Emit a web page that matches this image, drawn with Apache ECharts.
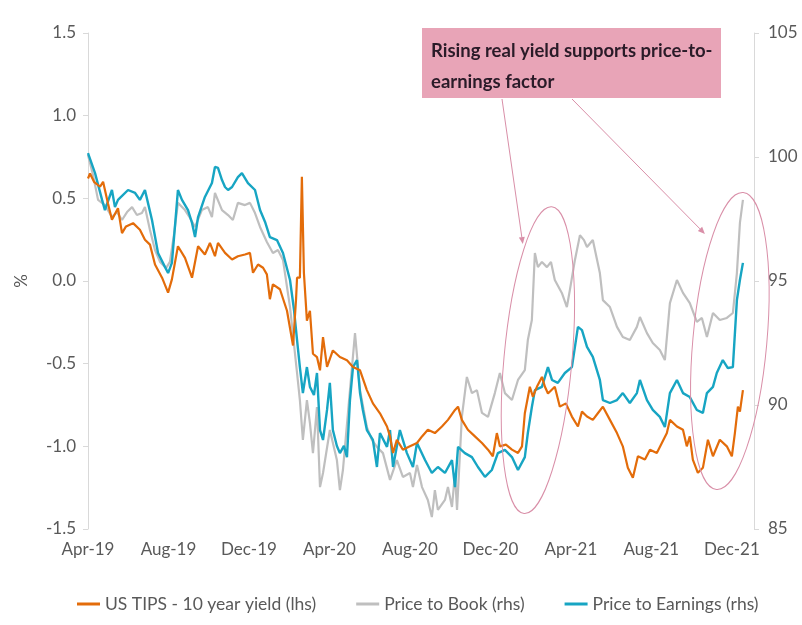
<!DOCTYPE html>
<html>
<head>
<meta charset="utf-8">
<script src="https://cdn.jsdelivr.net/npm/echarts@6/dist/echarts.min.js"></script>
<style>
  html, body { margin: 0; padding: 0; background: #fff; }
  #chart { width: 802px; height: 625px; }
</style>
</head>
<body>
<div id="chart"></div>
<script>
// x = months since Apr-19 (0 = Apr-19, 4 = Aug-19 ...)
const tickLabels = ["Apr-19", "Aug-19", "Dec-19", "Apr-20", "Aug-20", "Dec-20", "Apr-21", "Aug-21", "Dec-21"];

// US TIPS 10y real yield, % (lhs)
const tipsYield = [
  [0, 0.62], [0.10, 0.65], [0.30, 0.60], [0.60, 0.57], [0.75, 0.60], [0.99, 0.47], [1.19, 0.37], [1.49, 0.44],
  [1.69, 0.29], [1.89, 0.33], [2.24, 0.35], [2.58, 0.31], [2.83, 0.25], [3.08, 0.22], [3.33, 0.10], [3.68, 0.02],
  [3.98, -0.07], [4.17, 0.01], [4.47, 0.21], [4.82, 0.14], [5.17, 0.02], [5.47, 0.21], [5.81, 0.16], [6.06, 0.23],
  [6.31, 0.15], [6.46, 0.23], [6.81, 0.17], [7.16, 0.13], [7.45, 0.15], [7.80, 0.16], [8.05, 0.17], [8.20, 0.05],
  [8.45, 0.10], [8.70, 0.08], [8.89, 0.04], [9.04, -0.11], [9.19, -0.02], [9.54, -0.05], [9.89, -0.18], [10.19, -0.39],
  [10.34, -0.11], [10.39, 0.02], [10.53, 0.02], [10.63, 0.63], [10.73, 0.05], [10.88, -0.24], [11.03, -0.18], [11.18, -0.44],
  [11.38, -0.46], [11.53, -0.54], [11.68, -0.34], [11.88, -0.52], [12.17, -0.42], [12.52, -0.46], [12.87, -0.48], [13.17, -0.52],
  [13.52, -0.54], [13.86, -0.66], [14.16, -0.74], [14.51, -0.80], [14.86, -0.88], [15.01, -0.94], [15.16, -1.04], [15.35, -0.96],
  [15.65, -1.02], [16.00, -1.00], [16.35, -0.98], [16.60, -0.94], [16.89, -0.90], [17.24, -0.92], [17.59, -0.88], [17.89, -0.84],
  [18.24, -0.78], [18.39, -0.76], [18.58, -0.84], [18.88, -0.90], [19.23, -0.94], [19.58, -0.98], [19.88, -1.02], [20.12, -1.06],
  [20.32, -0.92], [20.47, -1.00], [20.77, -0.99], [21.07, -1.02], [21.37, -1.04], [21.57, -1.00], [21.71, -0.80], [21.96, -0.64],
  [22.11, -0.70], [22.31, -0.64], [22.56, -0.58], [22.71, -0.64], [22.86, -0.68], [23.20, -0.64], [23.45, -0.76], [23.75, -0.74],
  [24.05, -0.82], [24.35, -0.88], [24.55, -0.79], [24.80, -0.82], [25.09, -0.84], [25.34, -0.80], [25.59, -0.76], [25.94, -0.84],
  [26.29, -0.92], [26.58, -1.00], [26.83, -1.13], [27.08, -1.19], [27.33, -1.06], [27.68, -1.08], [27.93, -1.02], [28.27, -1.04],
  [28.52, -0.98], [28.77, -0.92], [28.92, -0.84], [29.27, -0.88], [29.57, -0.90], [29.76, -1.00], [29.91, -0.94], [30.06, -1.08],
  [30.31, -1.16], [30.56, -1.13], [30.81, -0.96], [31.06, -1.06], [31.40, -0.96], [31.75, -1.00], [32.00, -1.06], [32.15, -0.92],
  [32.30, -0.76], [32.40, -0.79], [32.55, -0.66]
];

// Price to Book factor (rhs)
const priceToBook = [
  [0, 100.08], [0.25, 99.27], [0.50, 98.27], [0.84, 98.06], [1.19, 97.58], [1.44, 97.78], [1.69, 97.46], [1.94, 97.78],
  [2.19, 97.98], [2.43, 97.66], [2.68, 97.74], [2.83, 97.98], [3.08, 97.06], [3.33, 96.25], [3.58, 95.77], [3.88, 95.52],
  [4.07, 95.77], [4.27, 96.85], [4.47, 98.15], [4.82, 97.86], [5.07, 97.54], [5.32, 97.18], [5.66, 97.86], [5.96, 97.98],
  [6.16, 97.58], [6.31, 98.55], [6.66, 97.86], [6.96, 97.66], [7.20, 97.46], [7.45, 98.15], [7.80, 98.06], [8.05, 98.15],
  [8.30, 97.74], [8.55, 97.18], [8.89, 96.57], [9.19, 96.13], [9.44, 96.25], [9.69, 95.85], [10.04, 93.95], [10.39, 91.29],
  [10.53, 90.20], [10.68, 88.59], [10.88, 90.20], [11.03, 89.27], [11.18, 88.06], [11.38, 89.92], [11.53, 86.69], [11.68, 87.26],
  [12.02, 88.99], [12.37, 87.78], [12.52, 86.57], [12.67, 87.38], [13.02, 90.60], [13.27, 92.90], [13.52, 90.60], [13.86, 89.11],
  [14.11, 88.59], [14.36, 88.31], [14.66, 88.06], [15.01, 86.98], [15.35, 87.78], [15.65, 87.10], [16.00, 87.26], [16.15, 86.69],
  [16.35, 87.58], [16.60, 86.69], [16.89, 86.17], [17.09, 85.48], [17.24, 86.57], [17.39, 85.77], [17.74, 86.17], [17.89, 86.69],
  [18.09, 85.89], [18.24, 87.26], [18.34, 85.77], [18.58, 89.52], [18.83, 91.13], [19.08, 90.48], [19.33, 90.60], [19.58, 89.68],
  [19.88, 89.52], [20.22, 90.48], [20.47, 91.29], [20.72, 90.48], [21.07, 90.20], [21.37, 91.01], [21.71, 91.41], [21.86, 92.62],
  [22.06, 93.43], [22.21, 96.13], [22.36, 95.56], [22.56, 95.77], [22.81, 95.56], [23.01, 95.77], [23.20, 95.04], [23.55, 94.52],
  [23.80, 93.95], [23.95, 94.64], [24.20, 95.85], [24.45, 96.85], [24.65, 96.65], [24.80, 96.37], [25.09, 96.65], [25.44, 95.32],
  [25.59, 94.23], [25.94, 93.95], [26.29, 93.15], [26.58, 92.74], [26.93, 92.62], [27.28, 93.15], [27.43, 93.55], [27.78, 92.90],
  [28.07, 92.50], [28.42, 92.22], [28.67, 91.81], [28.92, 94.11], [29.27, 95.04], [29.57, 94.52], [29.91, 94.11], [30.26, 93.35],
  [30.51, 93.51], [30.76, 92.74], [31.06, 93.71], [31.40, 93.43], [31.75, 93.51], [32.05, 93.71], [32.25, 95.32], [32.40, 97.34],
  [32.55, 98.27]
];

// Price to Earnings factor (rhs)
const priceToEarnings = [
  [0, 100.16], [0.35, 99.35], [0.70, 98.27], [0.84, 97.86], [1.19, 98.67], [1.34, 97.98], [1.49, 98.27], [1.99, 98.67],
  [2.34, 98.55], [2.58, 98.27], [2.83, 98.67], [2.98, 98.15], [3.18, 97.46], [3.48, 96.13], [3.83, 95.56], [3.98, 95.32],
  [4.17, 95.73], [4.32, 97.18], [4.47, 98.67], [4.67, 98.27], [4.97, 97.86], [5.17, 97.34], [5.32, 96.77], [5.47, 97.58],
  [5.81, 98.39], [6.16, 98.95], [6.31, 99.60], [6.46, 99.56], [6.66, 99.07], [6.81, 98.79], [6.96, 98.67], [7.16, 98.79],
  [7.45, 99.19], [7.65, 99.35], [7.95, 98.95], [8.30, 98.67], [8.55, 97.86], [8.80, 97.38], [9.04, 96.77], [9.39, 96.65],
  [9.69, 96.13], [10.04, 95.04], [10.24, 93.83], [10.39, 92.62], [10.53, 91.53], [10.68, 90.48], [10.88, 91.53], [11.03, 90.73],
  [11.23, 90.40], [11.38, 91.29], [11.53, 88.99], [11.68, 88.59], [11.88, 89.80], [12.02, 90.89], [12.17, 88.99], [12.37, 88.35],
  [12.52, 88.06], [12.72, 88.35], [12.87, 87.90], [13.02, 90.20], [13.17, 91.53], [13.37, 91.81], [13.52, 90.48], [13.66, 89.80],
  [13.86, 88.99], [14.16, 88.59], [14.36, 87.50], [14.51, 88.87], [14.86, 88.31], [15.01, 88.99], [15.16, 87.50], [15.50, 88.99],
  [15.85, 88.06], [16.15, 87.50], [16.35, 88.47], [16.75, 87.78], [17.09, 87.26], [17.39, 87.50], [17.74, 87.26], [18.09, 87.78],
  [18.24, 86.69], [18.39, 88.31], [18.73, 88.06], [19.08, 87.90], [19.38, 87.50], [19.73, 87.10], [20.07, 87.38], [20.37, 88.06],
  [20.72, 88.19], [21.07, 87.90], [21.37, 87.38], [21.71, 87.90], [21.86, 88.87], [22.06, 89.92], [22.21, 90.60], [22.56, 90.73],
  [22.86, 91.53], [23.06, 91.01], [23.35, 90.89], [23.70, 91.29], [24.05, 91.53], [24.35, 93.15], [24.55, 93.02], [24.80, 92.34],
  [25.09, 91.94], [25.44, 91.01], [25.59, 90.20], [25.94, 90.08], [26.29, 90.20], [26.58, 90.48], [26.93, 90.08], [27.28, 90.48],
  [27.43, 91.01], [27.78, 90.20], [28.07, 89.80], [28.42, 89.52], [28.67, 89.11], [28.92, 90.48], [29.27, 91.01], [29.57, 90.48],
  [29.91, 90.32], [30.26, 89.80], [30.56, 89.68], [30.76, 90.48], [31.06, 90.73], [31.25, 91.29], [31.55, 91.81], [31.80, 91.49],
  [32.05, 91.53], [32.25, 94.23], [32.40, 95.04], [32.55, 95.73]
];

const seriesNames = ["US TIPS - 10 year yield (lhs)", "Price to Book (rhs)", "Price to Earnings (rhs)"];
const seriesColors = ["#E36C0A", "#BFBFBF", "#17A5C3"];

// callout: ellipse centres [month, rhs value], arrow tips [month, rhs value]
const noteText = "Rising real yield supports price-to-\nearnings factor";
const ellipseCentres = [[22.36, 91.81], [31.90, 92.58]];
const arrowTips = [[21.61, 96.49], [30.66, 96.90]];

const FONT = "Lato, 'Open Sans', sans-serif";
const labelColor = "#595959";
const axisColor = "#D9D9D9";
const pink = "#D98FA8";

let chart = echarts.init(document.getElementById("chart"), null, { renderer: "canvas" });

chart.setOption({
  animation: false,
  backgroundColor: "#fff",
  textStyle: { fontFamily: FONT },
  grid: { left: 88, right: 48, top: 33, bottom: 96, containLabel: false },
  legend: {
    data: seriesNames,
    left: 72,
    top: 590,
    icon: "rect",
    itemWidth: 23,
    itemHeight: 3,
    itemGap: 40,
    textStyle: { fontSize: 17.5, color: labelColor, fontFamily: FONT }
  },
  xAxis: {
    type: "value",
    min: 0,
    max: 33.1,
    interval: 4,
    axisLine: { show: false },
    axisTick: { show: false },
    splitLine: { show: false },
    axisLabel: {
      fontSize: 17,
      color: labelColor,
      margin: 12,
      showMaxLabel: false,
      formatter: v => tickLabels[Math.round(v / 4)] || ""
    }
  },
  yAxis: [
    {
      type: "value",
      min: -1.5,
      max: 1.5,
      interval: 0.5,
      name: "%",
      nameLocation: "middle",
      nameGap: 58,
      nameRotate: 90,
      nameTextStyle: { fontSize: 17, color: labelColor },
      axisLine: { show: true, lineStyle: { color: axisColor, width: 1 } },
      axisTick: { show: true, length: 5, lineStyle: { color: axisColor } },
      splitLine: { show: false },
      axisLabel: { fontSize: 17, color: labelColor, margin: 12, formatter: v => v.toFixed(1) }
    },
    {
      type: "value",
      position: "right",
      min: 85,
      max: 105,
      interval: 5,
      axisLine: { show: true, lineStyle: { color: axisColor, width: 1 } },
      axisTick: { show: true, length: 5, lineStyle: { color: axisColor } },
      splitLine: { show: false },
      axisLabel: { fontSize: 17, color: labelColor, margin: 14 }
    }
  ],
  series: [
    {
      name: seriesNames[1],
      type: "line",
      yAxisIndex: 1,
      data: priceToBook,
      showSymbol: false,
      color: seriesColors[1],
      lineStyle: { width: 2.2 }
    },
    {
      name: seriesNames[2],
      type: "line",
      yAxisIndex: 1,
      data: priceToEarnings,
      showSymbol: false,
      color: seriesColors[2],
      lineStyle: { width: 2.4 }
    },
    {
      name: seriesNames[0],
      type: "line",
      yAxisIndex: 0,
      data: tipsYield,
      showSymbol: false,
      color: seriesColors[0],
      lineStyle: { width: 2.2 }
    }
  ]
});

// 把数据坐标转成像素
function toPx(p) {
  return [
    chart.convertToPixel({ xAxisIndex: 0 }, p[0]),
    chart.convertToPixel({ yAxisIndex: 1 }, p[1])
  ];
}

function arrow(from, to) {
  let dx = to[0] - from[0];
  let dy = to[1] - from[1];
  let len = Math.sqrt(dx * dx + dy * dy);
  let ux = dx / len, uy = dy / len;
  let back = [to[0] - ux * 7, to[1] - uy * 7];
  return [
    {
      type: "line",
      shape: { x1: from[0], y1: from[1], x2: back[0], y2: back[1] },
      style: { stroke: pink, lineWidth: 1 }
    },
    {
      type: "polygon",
      shape: {
        points: [
          to,
          [back[0] - uy * 3, back[1] + ux * 3],
          [back[0] + uy * 3, back[1] - ux * 3]
        ]
      },
      style: { fill: pink }
    }
  ];
}

function drawNotes() {
  let els = [];
  ellipseCentres.forEach((c, i) => {
    let p = toPx(c);
    els.push({
      type: "ellipse",
      x: p[0],
      y: p[1],
      rotation: -0.09,
      shape: { cx: 0, cy: 0, rx: i === 0 ? 34 : 37, ry: i === 0 ? 154 : 149 },
      style: { fill: null, stroke: pink, lineWidth: 1 },
      z: 10
    });
  });
  els.push({
    type: "rect",
    shape: { x: 422, y: 28, width: 299, height: 70 },
    style: { fill: "#E8A4B7" },
    z: 11
  });
  els.push({
    type: "text",
    x: 431,
    y: 36,
    style: {
      text: noteText,
      font: "bold 18.5px " + FONT,
      fill: "#2A1B28",
      lineHeight: 31
    },
    z: 12
  });
  els = els.concat(arrow([502, 99], toPx(arrowTips[0])));
  els = els.concat(arrow([572, 99], toPx(arrowTips[1])));
  chart.setOption({ graphic: els.map(e => Object.assign({ z: 10 }, e)) });
}

drawNotes();
</script>
</body>
</html>
